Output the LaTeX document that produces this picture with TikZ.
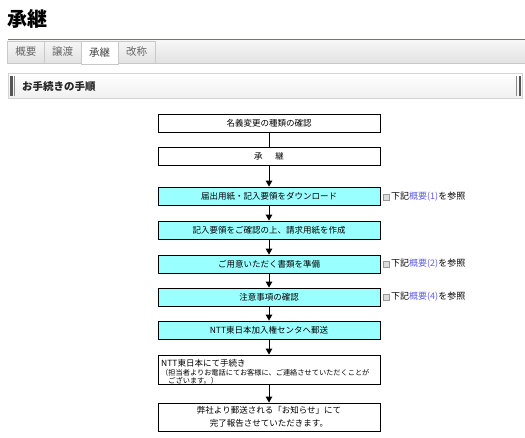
\documentclass[tikz,border=0pt]{standalone}
\usepackage{fontspec}
\setmainfont{Noto Sans CJK JP}
\usetikzlibrary{arrows.meta}
\definecolor{purpleline}{HTML}{9D4FD0}
\definecolor{tabtop}{HTML}{F6F6F6}
\definecolor{tabbot}{HTML}{E2E2E2}
\definecolor{tabborder}{HTML}{C8C8C8}
\definecolor{tabtext}{HTML}{666666}
\definecolor{hdrborder}{HTML}{D4D4D4}
\definecolor{flowcyan}{HTML}{99FFFF}
\definecolor{linkblue}{HTML}{6060F0}
\definecolor{bardark}{HTML}{555555}
\definecolor{barlight}{HTML}{8A8A8A}
\definecolor{iconfill}{HTML}{DDDDDD}
\begin{document}
\begin{tikzpicture}[x=1pt,y=-1pt,
  flowbox/.style={draw=black, line width=0.8pt, minimum width=222pt, minimum height=18pt, inner sep=0pt, font=\fontsize{8.5}{10}\selectfont},
  cyanbox/.style={flowbox, fill=flowcyan},
  flowarrow/.style={draw=black, line width=0.9pt, -{Triangle[length=6pt,width=6.5pt]}},
  flowline/.style={draw=black, line width=0.9pt},
  tabnode/.style={draw=tabborder, line width=0.6pt, minimum width=37pt, minimum height=22pt, inner sep=0pt, top color=tabtop, bottom color=tabbot, text=tabtext, font=\fontsize{10.5}{12}\selectfont},
  notetext/.style={anchor=west, inner sep=0pt, font=\fontsize{9}{10}\selectfont},
  noteicon/.style={draw=gray!80, fill=iconfill, line width=0.5pt, minimum size=6pt, inner sep=0pt}
]
\useasboundingbox (0,0) rectangle (525,437);
\fill[white] (0,0) rectangle (525,437);

% title
\node[anchor=west, inner sep=0pt, font=\bfseries\fontsize{20}{22}\selectfont] (title) at (7,19) {承継};

% purple line and tab bar
\shade[top color=tabtop, bottom color=tabbot] (8,40.5) rectangle (525,63);
\draw[tabborder, line width=0.6pt] (8,63) -- (525,63);
\draw[purpleline, line width=1.6pt] (8,39.5) -- (525,39.5);
\node[tabnode] (tab1) at (26,52) {概要};
\node[tabnode] (tab2) at (62.5,52) {譲渡};
\node[tabnode, top color=white, bottom color=white, text=black!75, minimum height=23pt] (tab3) at (99.5,52.5) {承継};
\node[tabnode] (tab4) at (136.5,52) {改称};

% section header
\node[draw=hdrborder, line width=0.8pt, top color=white, bottom color=black!6, minimum width=514pt, minimum height=25pt, inner sep=0pt, anchor=north west] (hdr) at (8,73) {};
\fill[bardark] (10,76) rectangle (12.5,96);
\fill[barlight] (13.8,76) rectangle (15,96);
\fill[barlight] (516,76) rectangle (517.2,96);
\fill[bardark] (518.5,76) rectangle (521,96);
\node[anchor=west, inner sep=0pt, text=black!85, font=\bfseries\fontsize{10.5}{12}\selectfont] (hdrtext) at (22,86) {お手続きの手順};

% flow boxes
\node[flowbox] (b1) at (269,123) {名義変更の種類の確認};
\node[flowbox] (b2) at (269,156) {承\hspace{1.5em}継};
\node[cyanbox] (b3) at (269,196) {届出用紙・記入要領をダウンロード};
\node[cyanbox] (b4) at (269,230) {記入要領をご確認の上、請求用紙を作成};
\node[cyanbox] (b5) at (269,264) {ご用意いただく書類を準備};
\node[cyanbox] (b6) at (269,297) {注意事項の確認};
\node[cyanbox] (b7) at (269,330) {NTT東日本加入権センタへ郵送};
\node[flowbox, minimum height=29pt] (b8) at (269,369.5) {};
\node[anchor=north west, inner sep=0pt, align=left, font=\fontsize{8.5}{10}\selectfont] (b8t) at (161,359.5)
  {NTT東日本にて手続き\\[-1.5pt]
   {\fontsize{7.2}{8.4}\selectfont （担当者よりお電話にてお客様に、ご連絡させていただくことが}\\[-1.5pt]
   {\fontsize{7.2}{8.4}\selectfont \phantom{（}ございます。）}};
\node[flowbox, minimum height=28pt, align=center, font=\fontsize{8.5}{12.5}\selectfont] (b9) at (269,417)
  {弊社より郵送される「お知らせ」にて\\完了報告させていただきます。};

% connectors
\draw[flowline] (b1.south) -- (b2.north);
\draw[flowarrow] (b2.south) -- (b3.north);
\draw[flowarrow] (b3.south) -- (b4.north);
\draw[flowarrow] (b4.south) -- (b5.north);
\draw[flowarrow] (b5.south) -- (b6.north);
\draw[flowarrow] (b6.south) -- (b7.north);
\draw[flowarrow] (b7.south) -- (b8.north);
\draw[flowarrow] (b8.south) -- (b9.north);

% notes
\node[noteicon] (i1) at (386,197) {};
\node[notetext] (n1) at (391,196.5) {下記\textcolor{linkblue}{概要(1)}を参照};
\node[noteicon] (i2) at (386,264.5) {};
\node[notetext] (n2) at (391,264) {下記\textcolor{linkblue}{概要(2)}を参照};
\node[noteicon] (i3) at (386,297.5) {};
\node[notetext] (n3) at (391,297) {下記\textcolor{linkblue}{概要(4)}を参照};
\end{tikzpicture}
\end{document}
